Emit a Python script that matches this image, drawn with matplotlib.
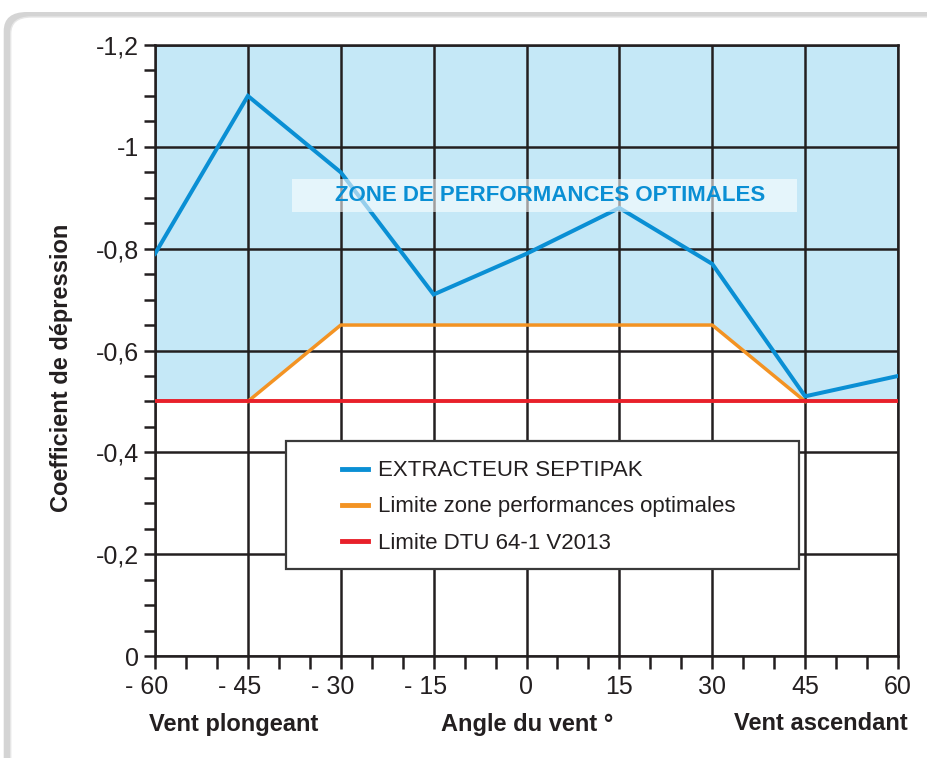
import matplotlib
matplotlib.use('Agg')
import matplotlib.pyplot as plt
from matplotlib.patches import FancyBboxPatch, Rectangle
from matplotlib.lines import Line2D
from matplotlib.transforms import ScaledTranslation

plt.rcParams['font.family'] = ['Liberation Sans', 'DejaVu Sans']

# données
angles = [-60, -45, -30, -15, 0, 15, 30, 45, 60]
septipak = [-0.79, -1.10, -0.95, -0.71, -0.79, -0.88, -0.77, -0.51, -0.55]
limite_angles = [-45, -30, 30, 45]
limite_optimale = [-0.50, -0.65, -0.65, -0.50]
zone_angles = [-60, -45, -30, 30, 45, 60]
zone_bas = [-0.50, -0.50, -0.65, -0.65, -0.50, -0.50]
dtu = -0.50

x_ticks = [-60, -45, -30, -15, 0, 15, 30, 45, 60]
x_labels = ['- 60', '- 45', '- 30', '- 15', '0', '15', '30', '45', '60']
y_ticks = [0, -0.2, -0.4, -0.6, -0.8, -1.0, -1.2]
y_labels = ['0', '-0,2', '-0,4', '-0,6', '-0,8', '-1', '-1,2']

bleu = '#0a8fd4'
orange = '#f39323'
rouge = '#e8202a'
fond_bleu = '#c5e8f7'
noir = '#231f20'

fig = plt.figure(figsize=(9.28, 7.58), dpi=100)
fig.patch.set_facecolor('white')

# cadre arrondi
ombre = FancyBboxPatch((0.004, -0.2), 1.2, 1.2 - 12 / 758, boxstyle='round,pad=0,rounding_size=0.025',
                       transform=fig.transFigure, facecolor='#d4d4d4', edgecolor='none', zorder=-2)
cadre = FancyBboxPatch((0.0115, -0.2), 1.2, 1.2 - 17 / 758, boxstyle='round,pad=0,rounding_size=0.022',
                       transform=fig.transFigure, facecolor='white', edgecolor='#e6e6e6', lw=1, zorder=-1)
fig.patches.extend([ombre, cadre])

ax = fig.add_axes([155 / 928, 1 - 656 / 758, 743 / 928, 611 / 758])
ax.set_facecolor('none')

ax.fill_between(zone_angles, zone_bas, -1.2, color=fond_bleu, lw=0, zorder=1)
ax.plot(angles, septipak, color=bleu, lw=2.9, zorder=3, solid_joinstyle='miter')
ax.plot(limite_angles, limite_optimale, color=orange, lw=2.5, zorder=3)
ax.axhline(dtu, color=rouge, lw=2.8, zorder=3.2)

ax.set_xlim(-60, 60)
ax.set_ylim(0, -1.2)
ax.set_xticks(x_ticks, x_labels)
ax.set_xticks(range(-60, 61, 5), minor=True)
ax.set_yticks(y_ticks, y_labels)
ax.set_yticks([-0.05 * i for i in range(25)], minor=True)

ax.grid(True, which='major', color=noir, lw=1.8)
ax.set_axisbelow('line')
for s in ax.spines.values():
    s.set_color(noir)
    s.set_linewidth(1.8)
ax.tick_params(which='both', direction='out', color=noir, width=1.8, labelsize=18,
               labelcolor=noir)
ax.tick_params(axis='y', which='both', length=8, pad=3.5)
ax.tick_params(axis='x', which='both', length=9.5, pad=4)

# le signe moins déborde à gauche, les chiffres restent centrés sur le trait
decalage = ScaledTranslation(-0.08, 0, fig.dpi_scale_trans)
for lab in ax.get_xticklabels():
    if lab.get_text().startswith('-'):
        lab.set_transform(lab.get_transform() + decalage)

ax.set_ylabel('Coefficient de dépression', fontsize=17, fontweight='bold', color=noir)
ax.yaxis.set_label_coords(-0.110, 0.471)

# bandeau zone
ax.add_patch(Rectangle((-37.9, -0.937), 81.6, 0.065, facecolor='white', alpha=0.57,
                       edgecolor='none', zorder=4))
ax.text(3.8, -0.905, 'ZONE DE PERFORMANCES OPTIMALES', color=bleu, fontsize=16,
        fontweight='bold', ha='center', va='center', zorder=5)

# légende
ax.add_patch(Rectangle((0.1763, 0.1424), 0.6905, 0.2096, transform=ax.transAxes,
                       facecolor='white', edgecolor='#3a3a3a', lw=1.6, zorder=6))
handles = [Line2D([], [], color=bleu, lw=3.5),
           Line2D([], [], color=orange, lw=3.5),
           Line2D([], [], color=rouge, lw=3.5)]
noms = ['EXTRACTEUR SEPTIPAK', 'Limite zone performances optimales', 'Limite DTU 64-1 V2013']
leg = ax.legend(handles, noms, loc='center left', bbox_to_anchor=(0.2517, 0.2439),
                frameon=False, fontsize=16, handlelength=1.18, handletextpad=0.45,
                labelspacing=0.68, borderpad=0, borderaxespad=0)
leg.set_zorder(7)
for t in leg.get_texts():
    t.set_color(noir)

fig.text(234 / 928, 1 - 724 / 758, 'Vent plongeant', fontsize=17, fontweight='bold',
         ha='center', va='center', color=noir)
fig.text(527 / 928, 1 - 724 / 758, 'Angle du vent °', fontsize=17, fontweight='bold',
         ha='center', va='center', color=noir)
fig.text(908 / 928, 1 - 724 / 758, 'Vent ascendant', fontsize=17, fontweight='bold',
         ha='right', va='center', color=noir)

fig.savefig('out.png', dpi=100, facecolor='white')
